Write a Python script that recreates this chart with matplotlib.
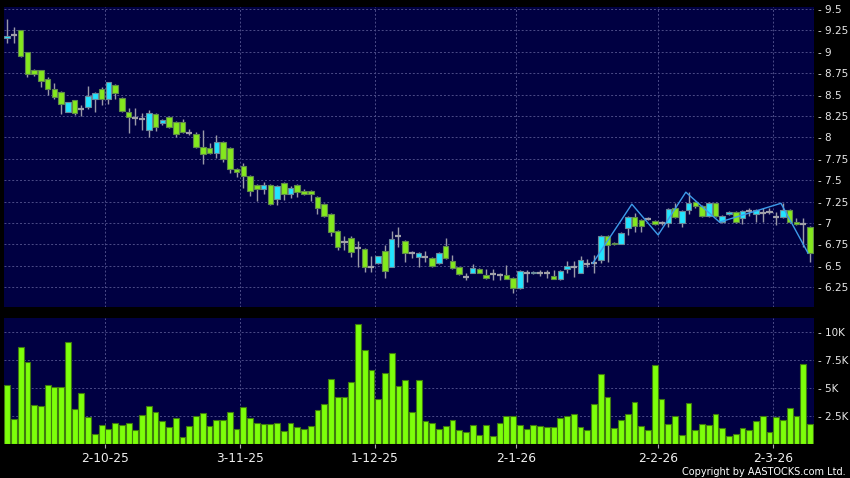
import numpy as np
import matplotlib
matplotlib.use('Agg')
import matplotlib.pyplot as plt

# ---- daily OHLC, bar index 0 = first trading day shown ----
opens = [9.16, 9.20, 9.25, 9.00, 8.79, 8.79, 8.68, 8.57, 8.53, 8.30,
         8.44, 8.33, 8.36, 8.45, 8.57, 8.45, 8.61, 8.46, 8.30, 8.23,
         8.22, 8.09, 8.27, 8.17, 8.24, 8.18, 8.18, 8.05, 8.04, 7.89,
         7.88, 7.82, 7.95, 7.88, 7.63, 7.67, 7.55, 7.44, 7.40, 7.44,
         7.28, 7.47, 7.34, 7.44, 7.37, 7.37, 7.30, 7.22, 7.11, 6.91,
         6.78, 6.83, 6.71, 6.70, 6.49, 6.53, 6.67, 6.49, 6.85, 6.79,
         6.65, 6.60, 6.60, 6.59, 6.53, 6.73, 6.56, 6.48, 6.37, 6.42,
         6.46, 6.39, 6.40, 6.39, 6.39, 6.36, 6.24, 6.41, 6.41, 6.41,
         6.41, 6.38, 6.35, 6.46, 6.49, 6.42, 6.52, 6.53, 6.57, 6.85,
         6.77, 6.76, 6.94, 7.07, 7.04, 7.05, 7.02, 7.00, 7.00, 7.17,
         7.00, 7.15, 7.25, 7.20, 7.08, 7.23, 7.01, 7.10, 7.13, 7.06,
         7.14, 7.10, 7.12, 7.13, 7.07, 7.07, 7.15, 7.01, 6.99, 6.95]
highs = [9.38, 9.29, 9.26, 9.00, 8.80, 8.79, 8.71, 8.64, 8.54, 8.41,
         8.44, 8.38, 8.60, 8.53, 8.59, 8.65, 8.62, 8.47, 8.34, 8.34,
         8.28, 8.32, 8.28, 8.22, 8.25, 8.19, 8.21, 8.10, 8.06, 8.09,
         7.93, 8.03, 7.96, 7.89, 7.64, 7.70, 7.56, 7.45, 7.48, 7.45,
         7.44, 7.48, 7.43, 7.45, 7.40, 7.38, 7.31, 7.23, 7.12, 6.92,
         6.85, 6.85, 6.79, 6.71, 6.61, 6.62, 6.74, 6.91, 6.95, 6.80,
         6.67, 6.66, 6.67, 6.60, 6.66, 6.82, 6.63, 6.49, 6.42, 6.52,
         6.47, 6.46, 6.46, 6.42, 6.51, 6.37, 6.45, 6.45, 6.44, 6.45,
         6.45, 6.45, 6.45, 6.56, 6.56, 6.61, 6.58, 6.63, 6.86, 6.86,
         6.78, 6.89, 7.08, 7.12, 7.05, 7.07, 7.03, 7.02, 7.18, 7.23,
         7.15, 7.36, 7.26, 7.21, 7.24, 7.24, 7.09, 7.14, 7.14, 7.15,
         7.17, 7.16, 7.17, 7.17, 7.13, 7.23, 7.16, 7.06, 7.06, 6.96]
lows = [9.10, 9.10, 8.94, 8.71, 8.72, 8.59, 8.50, 8.45, 8.27, 8.30,
        8.26, 8.25, 8.33, 8.30, 8.38, 8.39, 8.45, 8.30, 8.05, 8.14,
        8.09, 8.00, 8.08, 8.15, 8.11, 8.00, 8.05, 8.03, 7.88, 7.69,
        7.81, 7.76, 7.71, 7.58, 7.54, 7.41, 7.32, 7.26, 7.34, 7.21,
        7.21, 7.27, 7.29, 7.30, 7.33, 7.26, 7.10, 7.07, 6.85, 6.69,
        6.69, 6.60, 6.49, 6.43, 6.43, 6.52, 6.36, 6.48, 6.72, 6.55,
        6.59, 6.48, 6.55, 6.49, 6.52, 6.58, 6.46, 6.39, 6.33, 6.41,
        6.41, 6.35, 6.33, 6.33, 6.34, 6.18, 6.23, 6.31, 6.40, 6.38,
        6.36, 6.34, 6.33, 6.41, 6.37, 6.41, 6.49, 6.41, 6.53, 6.55,
        6.74, 6.75, 6.86, 6.90, 6.89, 7.03, 6.98, 6.98, 6.95, 7.06,
        6.95, 7.11, 7.17, 7.07, 7.07, 7.07, 7.00, 7.09, 7.00, 6.99,
        7.08, 7.01, 7.01, 7.10, 6.98, 7.06, 7.00, 6.98, 6.72, 6.55]
closes = [9.19, 9.20, 8.95, 8.74, 8.74, 8.66, 8.57, 8.47, 8.39, 8.41,
          8.29, 8.33, 8.48, 8.52, 8.45, 8.65, 8.52, 8.31, 8.24, 8.23,
          8.22, 8.28, 8.12, 8.20, 8.12, 8.04, 8.06, 8.05, 7.89, 7.81,
          7.82, 7.95, 7.75, 7.63, 7.60, 7.55, 7.37, 7.40, 7.44, 7.22,
          7.43, 7.34, 7.41, 7.36, 7.34, 7.34, 7.18, 7.08, 6.89, 6.72,
          6.78, 6.66, 6.71, 6.49, 6.49, 6.61, 6.44, 6.81, 6.85, 6.65,
          6.65, 6.65, 6.60, 6.50, 6.65, 6.59, 6.47, 6.40, 6.37, 6.47,
          6.42, 6.36, 6.40, 6.39, 6.35, 6.24, 6.44, 6.41, 6.43, 6.41,
          6.41, 6.35, 6.44, 6.50, 6.49, 6.57, 6.52, 6.53, 6.85, 6.74,
          6.75, 6.88, 7.07, 6.97, 6.96, 7.05, 6.99, 7.00, 7.16, 7.07,
          7.14, 7.23, 7.20, 7.08, 7.23, 7.08, 7.08, 7.13, 7.01, 7.14,
          7.14, 7.15, 7.12, 7.13, 7.07, 7.15, 7.01, 6.99, 6.99, 6.65]
volumes = [5240, 2210, 8660, 7320, 3520, 3390, 5240, 5120, 5120, 9140,
           3160, 4590, 2440, 890, 1700, 1310, 1910, 1670, 1850, 1220,
           2560, 3430, 2890, 2030, 1550, 2290, 630, 1640, 2500, 2800,
           1640, 2140, 2140, 2860, 1310, 3340, 2360, 1910, 1820, 1820,
           1910, 1200, 1910, 1550, 1370, 1610, 3040, 3610, 5780, 4170,
           4230, 5570, 10690, 8400, 6580, 3990, 6310, 8100, 5210, 5720,
           2890, 5720, 2090, 1850, 1310, 1610, 2120, 1220, 1110, 1670,
           840, 1670, 710, 1910, 2500, 2500, 1670, 1310, 1730, 1640,
           1520, 1520, 2320, 2500, 2650, 1550, 1220, 3610, 6220, 4230,
           1400, 2120, 2650, 3720, 1610, 1220, 7060, 4050, 1760, 2500,
           800, 3630, 1220, 1760, 1670, 2710, 1460, 710, 870, 1460,
           1220, 2030, 2500, 1040, 2440, 2120, 3250, 2540, 7180, 1760]

# overlay line (turning points)
zz_idx = [86.8, 92.6, 96.5, 100.6, 105.6, 114.7, 118.7]
zz_val = [6.53, 7.22, 6.86, 7.36, 7.01, 7.23, 6.65]

# month labels and the bar index of that trading day
date_labels = ['2-10-25', '3-11-25', '1-12-25', '2-1-26', '2-2-26', '2-3-26']
date_idx = [15, 35, 55, 76, 97, 114]

price_ticks = [6.25, 6.5, 6.75, 7, 7.25, 7.5, 7.75, 8, 8.25, 8.5, 8.75, 9, 9.25, 9.5]
price_labels = ['6.25', '6.5', '6.75', '7', '7.25', '7.5', '7.75', '8', '8.25', '8.5', '8.75', '9', '9.25', '9.5']
vol_ticks = [2500, 5000, 7500, 10000]
vol_labels = ['2.5K', '5K', '7.5K', '10K']

### ---------------------------------------------------------------
NAVY = '#000042'
UPC = '#22e4ff'
DNC = '#84e81e'
GRID = '#4c4c88'
DASH = (0, (2, 2))

o = np.array(opens); h = np.array(highs); l = np.array(lows); c = np.array(closes)
x = np.arange(len(o))
grid_x = np.array(date_idx) - 0.5

fig = plt.figure(figsize=(8.5, 4.78), dpi=100, facecolor='black')
ax1 = fig.add_axes([4/850, 1-306.7/478, 810/850, 299.7/478], facecolor=NAVY)
ax2 = fig.add_axes([4/850, 1-444/478, 810/850, 125.7/478], facecolor=NAVY)

for ax in (ax1, ax2):
    ax.set_xlim(-0.47, 119.6)
    for s in ax.spines.values():
        s.set_visible(False)
    ax.yaxis.tick_right()
    ax.tick_params(axis='y', length=0, pad=3, labelsize=7.5, labelcolor='#e8e8e8')
    ax.set_axisbelow(True)
    for gx in grid_x:
        ax.axvline(gx, color=GRID, lw=0.7, ls=DASH, zorder=0)

# ---- price panel ----
ax1.set_ylim(6.022, 9.523)
ax1.set_yticks(price_ticks)
ax1.set_yticklabels(['- ' + s for s in price_labels])
ax1.set_xticks([])
for p in price_ticks:
    ax1.axhline(p, color=GRID, lw=0.7, ls=DASH, zorder=0)

ax1.vlines(x, l, h, color='#9a9aa8', lw=1.0, zorder=2)
up = c > o
dn = c < o
eq = c == o
ax1.bar(x[up], (c - o)[up], bottom=o[up], width=0.82, color=UPC, edgecolor='#6a8a9a', lw=0.8, zorder=3)
ax1.bar(x[dn], (o - c)[dn], bottom=c[dn], width=0.82, color=DNC, edgecolor='#5f8a4a', lw=0.8, zorder=3)
ax1.hlines(o[eq], x[eq] - 0.45, x[eq] + 0.45, color='#a0a0a8', lw=1.6, zorder=3)

ax1.plot(zz_idx, zz_val, color='#3d9be9', lw=1.0, zorder=4)

# ---- volume panel ----
ax2.set_ylim(0, 11220)
ax2.set_yticks(vol_ticks)
ax2.set_yticklabels(['- ' + s for s in vol_labels])
for v in vol_ticks:
    ax2.axhline(v, color=GRID, lw=0.7, ls=DASH, zorder=0)
ax2.bar(x, volumes, width=0.86, color='#7dff0a', edgecolor='#3f7a10', lw=0.8, zorder=3)
ax2.set_xticks(grid_x)
ax2.set_xticklabels(date_labels)
ax2.tick_params(axis='x', length=3, width=0.8, color='#aaaaaa', pad=3, labelsize=8.8, labelcolor='#f0f0f0')

fig.text(846/850, 1-472/478, 'Copyright by AASTOCKS.com Ltd.', ha='right', va='center',
         fontsize=7.0, color='white')

plt.savefig('out.png', dpi=100, facecolor='black')
